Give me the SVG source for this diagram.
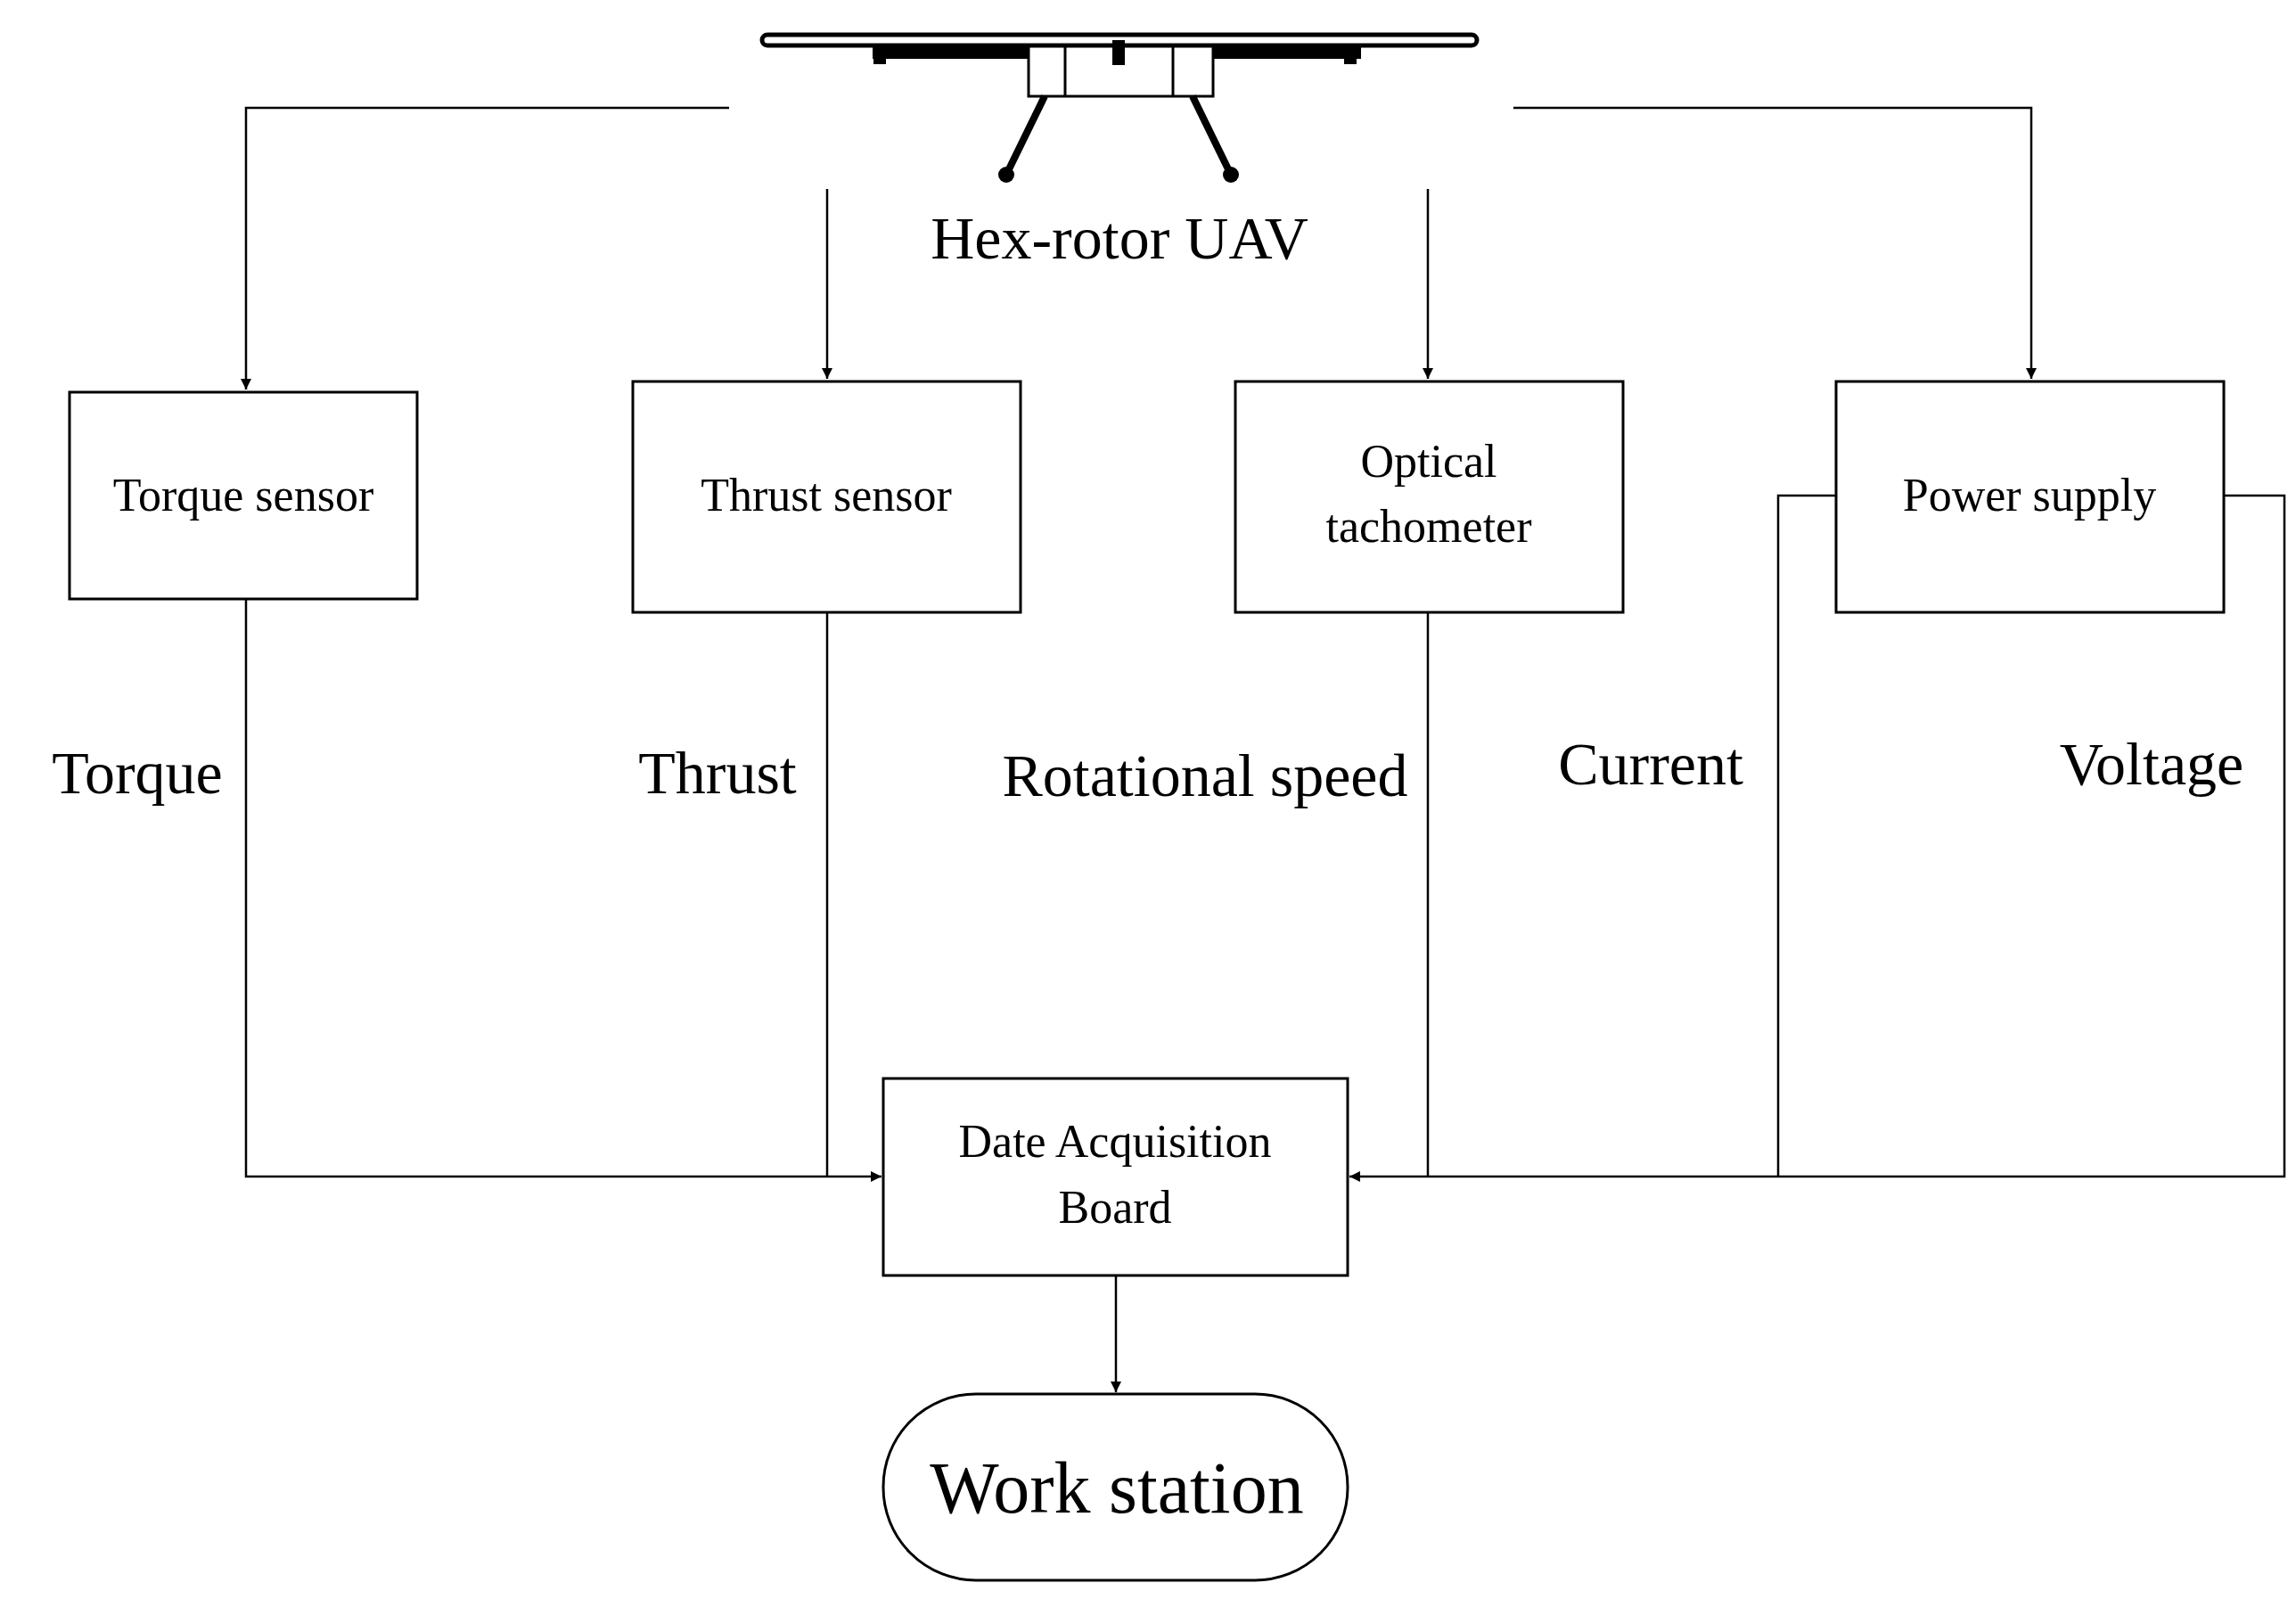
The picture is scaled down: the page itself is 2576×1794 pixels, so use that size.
<svg xmlns="http://www.w3.org/2000/svg" width="2576" height="1794" viewBox="0 0 2576 1794">
<defs>
<style>
.ln{fill:none;stroke:#000;stroke-width:2.5}
.bx{fill:#fff;stroke:#000;stroke-width:3}
.t{font-family:"Liberation Serif",serif;fill:#000;text-anchor:middle}
.s{font-size:52px}
.l{font-size:68px}
</style>
<marker id="a" viewBox="0 0 10 10" refX="10" refY="5" markerWidth="12" markerHeight="12" markerUnits="userSpaceOnUse" orient="auto"><path d="M0,0 L10,5 L0,10 z"/></marker>
</defs>
<rect width="2576" height="1794" fill="#fff"/>
<g id="uav">
<rect x="855" y="39" width="802" height="12" rx="6" fill="#fff" stroke="#000" stroke-width="5"/>
<rect x="979" y="50" width="216" height="16" fill="#000"/>
<rect x="1316" y="50" width="211" height="16" fill="#000"/>
<rect x="980" y="50" width="14" height="22" fill="#000"/>
<rect x="1508" y="50" width="14" height="22" fill="#000"/>
<rect x="1154" y="52" width="207" height="56" fill="#fff" stroke="#000" stroke-width="3"/>
<line x1="1195" y1="52" x2="1195" y2="108" stroke="#000" stroke-width="3"/>
<line x1="1316" y1="52" x2="1316" y2="108" stroke="#000" stroke-width="3"/>
<rect x="1248" y="45" width="14" height="28" fill="#000"/>
<line x1="1172" y1="108" x2="1129" y2="196" stroke="#000" stroke-width="8"/>
<line x1="1338" y1="108" x2="1381" y2="196" stroke="#000" stroke-width="8"/>
<circle cx="1129" cy="196" r="9"/>
<circle cx="1381" cy="196" r="9"/>
<text class="t l" x="1256" y="290">Hex-rotor UAV</text>
</g>
<g id="connectors">
<polyline class="ln" points="818,121 276,121 276,437" marker-end="url(#a)"/>
<line class="ln" x1="928" y1="212" x2="928" y2="425" marker-end="url(#a)"/>
<line class="ln" x1="1602" y1="212" x2="1602" y2="425" marker-end="url(#a)"/>
<polyline class="ln" points="1698,121 2279,121 2279,425" marker-end="url(#a)"/>
<polyline class="ln" points="276,672 276,1320 989,1320" marker-end="url(#a)"/>
<line class="ln" x1="928" y1="687" x2="928" y2="1320"/>
<line class="ln" x1="1602" y1="687" x2="1602" y2="1320"/>
<polyline class="ln" points="2060,556 1995,556 1995,1320"/>
<polyline class="ln" points="2495,556 2563,556 2563,1320 1514,1320" marker-end="url(#a)"/>
<line class="ln" x1="1252" y1="1431" x2="1252" y2="1562" marker-end="url(#a)"/>
<text class="t l" x="154" y="890">Torque</text>
<text class="t l" x="805" y="890">Thrust</text>
<text class="t l" x="1352" y="893">Rotational speed</text>
<text class="t l" x="1852" y="880">Current</text>
<text class="t l" x="2414" y="880">Voltage</text>
</g>
<g id="torque"><rect class="bx" x="78" y="440" width="390" height="232"/><text class="t s" x="273" y="573">Torque sensor</text></g>
<g id="thrust"><rect class="bx" x="710" y="428" width="435" height="259"/><text class="t s" x="927" y="573">Thrust sensor</text></g>
<g id="optical"><rect class="bx" x="1386" y="428" width="435" height="259"/><text class="t s" x="1603" y="535">Optical</text><text class="t s" x="1603" y="608">tachometer</text></g>
<g id="power"><rect class="bx" x="2060" y="428" width="435" height="259"/><text class="t s" x="2277" y="573">Power supply</text></g>
<g id="dab"><rect class="bx" x="991" y="1210" width="521" height="221"/><text class="t s" x="1251" y="1298">Date Acquisition</text><text class="t s" x="1251" y="1372">Board</text></g>
<g id="ws"><rect class="bx" x="991" y="1564" width="521" height="209" rx="104"/><text class="t" font-size="82" x="1253" y="1697">Work station</text></g>
</svg>
